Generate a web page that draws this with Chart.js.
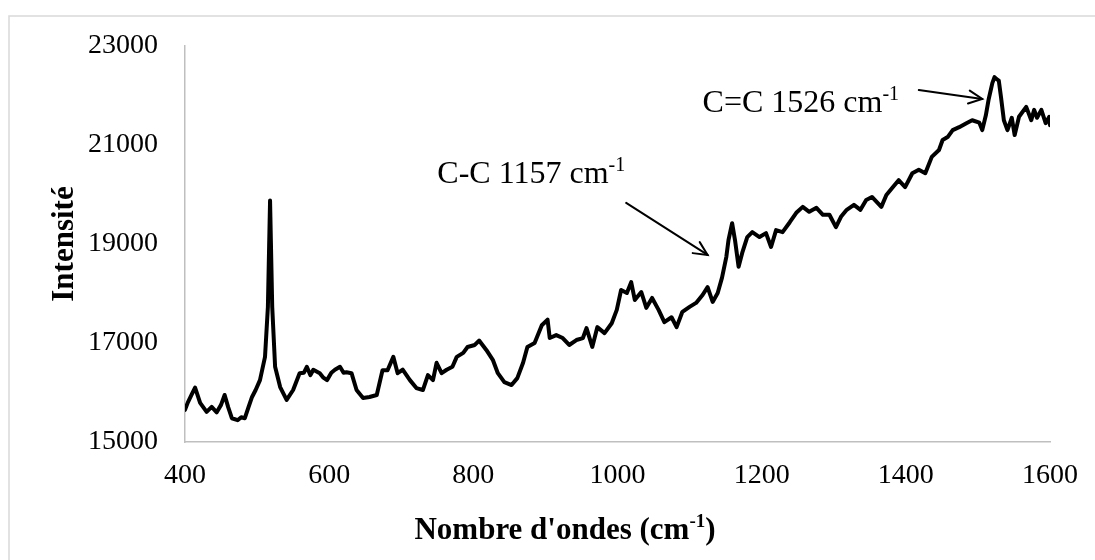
<!DOCTYPE html>
<html>
<head>
<meta charset="utf-8">
<script src="https://cdn.jsdelivr.net/npm/chart.js@4/dist/chart.umd.min.js"></script>
<style>
  html, body { margin: 0; padding: 0; background: #ffffff; }
  #wrap { position: relative; width: 1095px; height: 560px; overflow: hidden; }
  canvas { position: absolute; left: 0; top: 0; }
</style>
</head>
<body>
<div id="wrap"><canvas id="c" width="1095" height="560"></canvas></div>
<script>
// ---- Data ----
const wavenumbers = [
  400, 404, 409, 414, 421, 430, 437, 444, 450, 455, 460, 465, 473, 478, 483, 488, 493, 498,
  504, 511, 515, 518, 521, 525, 532, 541, 550, 559, 565, 569, 574, 578, 587, 592, 597, 603,
  608, 615, 620, 624, 631, 638, 647, 656, 666, 674, 681, 689, 695, 702, 712, 721, 730, 737,
  744, 749, 756, 763, 771, 777, 786, 792, 802, 808, 818, 827, 834, 843, 853, 861, 869, 875,
  885, 895, 903, 906, 915, 924, 933, 943, 952, 957, 965, 972, 982, 992, 999, 1005, 1013, 1019,
  1024, 1033, 1040, 1048, 1057, 1065, 1075, 1082, 1090, 1100, 1109, 1118, 1125, 1132, 1139,
  1145, 1151, 1154, 1159, 1163, 1168, 1173, 1180, 1187, 1197, 1206, 1213, 1220, 1229, 1239,
  1248, 1257, 1266, 1276, 1285, 1294, 1303, 1310, 1318, 1328, 1337, 1345, 1353, 1366, 1373,
  1381, 1390, 1399, 1409, 1418, 1427, 1436, 1446, 1451, 1458, 1465, 1474, 1484, 1492, 1502,
  1506, 1511, 1515, 1520, 1523, 1526, 1529, 1532, 1536, 1541, 1547, 1551, 1557, 1567, 1574,
  1578, 1582, 1588, 1594, 1599, 1600
];
const intensities = [
  15650, 15800, 15950, 16100, 15790, 15610, 15710, 15600, 15750, 15950, 15700, 15480, 15440, 15500, 15480, 15700, 15910, 16050,
  16250, 16720, 17730, 19880, 17730, 16520, 16110, 15850, 16050, 16390, 16400, 16520, 16350, 16460, 16390, 16300, 16250, 16400,
  16460, 16520, 16400, 16410, 16390, 16050, 15890, 15910, 15950, 16450, 16450, 16720, 16390, 16460, 16250, 16090, 16050, 16350,
  16250, 16600, 16390, 16460, 16520, 16720, 16800, 16920, 16960, 17050, 16860, 16660, 16390, 16210, 16150, 16290, 16600, 16920,
  17000, 17360, 17470, 17100, 17160, 17100, 16960, 17060, 17100, 17300, 16920, 17320, 17200, 17400, 17670, 18070, 18010, 18230,
  17870, 18030, 17710, 17910, 17670, 17420, 17520, 17320, 17630, 17730, 17810, 17970, 18130, 17830, 18010,
  18320, 18740, 19080, 19420, 19080, 18540, 18820, 19140, 19240, 19140, 19220, 18940, 19280, 19240, 19440,
  19630, 19750, 19650, 19730, 19590, 19590, 19340, 19550, 19690, 19790, 19690, 19890, 19950, 19750, 19990,
  20130, 20290, 20150, 20430, 20500, 20430, 20760, 20900, 21100, 21160, 21300, 21360, 21440, 21500, 21450,
  21300, 21600, 21930, 22250, 22370, 22330, 22300, 21970, 21500, 21300, 21550, 21200, 21570, 21770, 21500,
  21710, 21550, 21710, 21440, 21570, 21400
];
const xTicks = [400, 600, 800, 1000, 1200, 1400, 1600];
const yTicks = [15000, 17000, 19000, 21000, 23000];

// Annotations (data coordinates)
const annotationLabels = ["C-C 1157 cm", "C=C 1526 cm"];
const annotationSup = ["-1", "-1"];
const annotationTextX = [750, 1118];
const annotationTextY = [20230, 21670];
const arrowFromX = [1012, 1418];
const arrowFromY = [19830, 22110];
const arrowToX = [1125, 1506];
const arrowToY = [18780, 21930];

// ---- Chart ----
const SERIF = '"Liberation Serif", "Times New Roman", serif';

function drawSupText(ctx, base, sup, tail, x, y, size, bold, align) {
  const w = bold ? 'bold ' : '';
  const fBase = w + size + 'px ' + SERIF;
  const supSize = Math.round(size * 0.62);
  const fSup = w + supSize + 'px ' + SERIF;
  ctx.font = fBase; const wb = ctx.measureText(base).width; const wt = tail ? ctx.measureText(tail).width : 0;
  ctx.font = fSup; const ws = ctx.measureText(sup).width;
  const total = wb + ws + wt;
  let sx = x;
  if (align === 'center') sx = x - total / 2;
  ctx.textAlign = 'left';
  ctx.textBaseline = 'alphabetic';
  ctx.fillStyle = '#000';
  ctx.font = fBase; ctx.fillText(base, sx, y);
  ctx.font = fSup; ctx.fillText(sup, sx + wb, y - size * 0.38);
  if (tail) { ctx.font = fBase; ctx.fillText(tail, sx + wb + ws, y); }
}

const decorPlugin = {
  id: 'decor',
  beforeDraw(chart) {
    const ctx = chart.ctx;
    ctx.save();
    ctx.fillStyle = '#ffffff';
    ctx.fillRect(0, 0, chart.width, chart.height);
    ctx.strokeStyle = '#d9d9d9';
    ctx.lineWidth = 1.5;
    ctx.strokeRect(9, 16, 1100, 600);
    ctx.restore();
  },
  afterDraw(chart) {
    const ctx = chart.ctx;
    const xs = chart.scales.x, ys = chart.scales.y;
    ctx.save();
    // Axis titles
    drawSupText(ctx, "Nombre d'ondes (cm", "-1", ")", 565, 539, 31, true, 'center');
    ctx.save();
    ctx.translate(73, 244);
    ctx.rotate(-Math.PI / 2);
    ctx.font = 'bold 31px ' + SERIF;
    ctx.fillStyle = '#000';
    ctx.textAlign = 'center';
    ctx.textBaseline = 'alphabetic';
    ctx.fillText('Intensité', 0, 0);
    ctx.restore();
    // Annotation labels
    for (let i = 0; i < annotationLabels.length; i++) {
      drawSupText(ctx, annotationLabels[i], annotationSup[i], '',
        xs.getPixelForValue(annotationTextX[i]), ys.getPixelForValue(annotationTextY[i]), 32, false, 'left');
    }
    // Arrows
    ctx.strokeStyle = '#000';
    ctx.lineWidth = 2;
    ctx.lineCap = 'round';
    for (let i = 0; i < arrowFromX.length; i++) {
      const x1 = xs.getPixelForValue(arrowFromX[i]), y1 = ys.getPixelForValue(arrowFromY[i]);
      const x2 = xs.getPixelForValue(arrowToX[i]), y2 = ys.getPixelForValue(arrowToY[i]);
      ctx.beginPath(); ctx.moveTo(x1, y1); ctx.lineTo(x2, y2); ctx.stroke();
      const ang = Math.atan2(y2 - y1, x2 - x1);
      const L = 15, a = 0.45;
      ctx.beginPath();
      ctx.moveTo(x2 - L * Math.cos(ang - a), y2 - L * Math.sin(ang - a));
      ctx.lineTo(x2, y2);
      ctx.lineTo(x2 - L * Math.cos(ang + a), y2 - L * Math.sin(ang + a));
      ctx.stroke();
    }
    ctx.restore();
  }
};

new Chart(document.getElementById('c'), {
  type: 'line',
  data: {
    datasets: [{
      data: wavenumbers.map((w, i) => ({ x: w, y: intensities[i] })),
      borderColor: '#000000',
      borderWidth: 4,
      borderJoinStyle: 'round',
      borderCapStyle: 'round',
      pointRadius: 0,
      tension: 0,
      fill: false
    }]
  },
  options: {
    responsive: false,
    devicePixelRatio: 1,
    animation: false,
    events: [],
    layout: { padding: { top: 46, right: 44, bottom: 0, left: 0 } },
    plugins: { legend: { display: false }, tooltip: { enabled: false }, title: { display: false } },
    scales: {
      x: {
        type: 'linear',
        min: xTicks[0], max: xTicks[xTicks.length - 1],
        afterBuildTicks: s => { s.ticks = xTicks.map(v => ({ value: v })); },
        afterFit: s => { s.height = 118; },
        grid: { display: false, drawTicks: false },
        border: { display: true, color: '#bfbfbf', width: 1.5 },
        ticks: { color: '#000', font: { family: SERIF, size: 28 }, padding: 17, maxRotation: 0,
                 callback: v => String(v) }
      },
      y: {
        type: 'linear',
        min: yTicks[0], max: yTicks[yTicks.length - 1],
        afterBuildTicks: s => { s.ticks = yTicks.map(v => ({ value: v })); },
        afterFit: s => { s.width = 185; },
        grid: { display: false, drawTicks: false },
        border: { display: true, color: '#bfbfbf', width: 1.5 },
        ticks: { color: '#000', font: { family: SERIF, size: 28 }, padding: 27,
                 callback: v => String(v) }
      }
    }
  },
  plugins: [decorPlugin]
});
</script>
</body>
</html>
